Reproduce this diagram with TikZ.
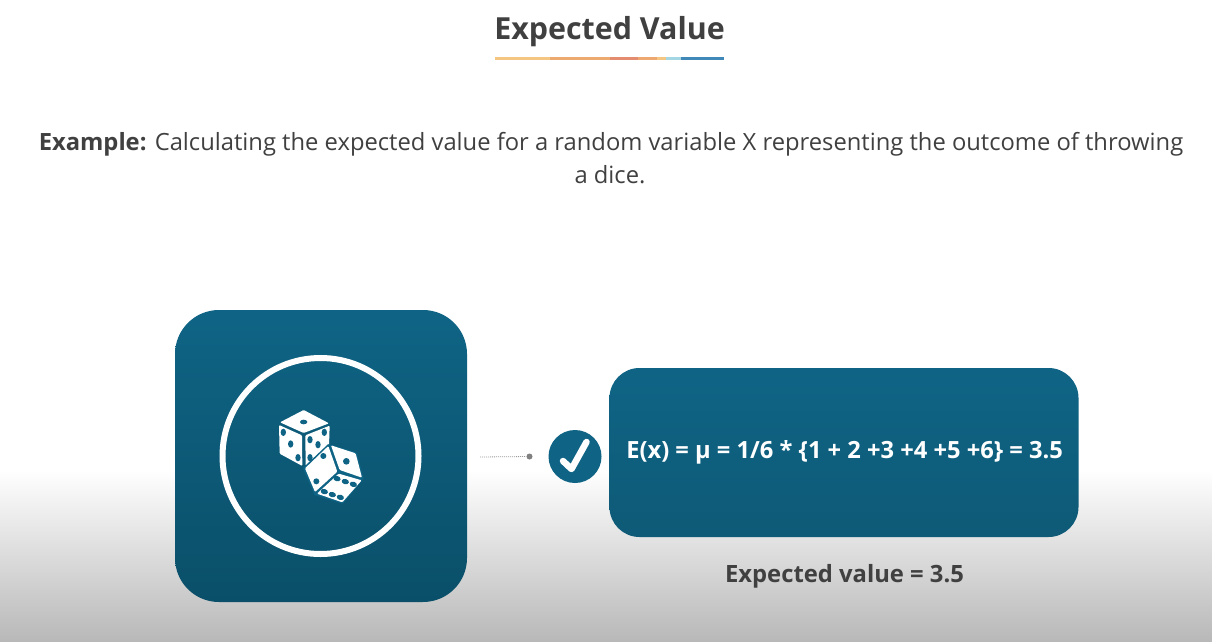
\documentclass[tikz,border=0pt]{standalone}
\usepackage{fontspec}
\setmainfont{Open Sans}
\definecolor{teal1}{HTML}{0F6485}
\definecolor{teal2}{HTML}{0A4F69}
\definecolor{teal3}{HTML}{0E5A77}
\definecolor{ink}{HTML}{404040}
\definecolor{bg}{HTML}{B8B8B8}
\tikzset{
  tile/.style 2 args={rounded corners=#1,top color=teal1,middle color=teal1,bottom color=#2,draw=none,inner sep=0pt},
  pip/.style={fill=teal1,draw=none},
  face/.style={fill=white,draw=none,rounded corners=1pt},
  bar/.style={draw=none},
  txt/.style={text=ink,inner sep=0pt,anchor=base}
}
\begin{document}
\begin{tikzpicture}[x=1pt,y=-1pt]
\useasboundingbox (0,0) rectangle (1212,642);
\fill[white] (0,0) rectangle (1212,470);
\shade[top color=white,bottom color=bg,shading angle=0] (0,470) rectangle (1212,642);
% title
\node[txt,font=\fontsize{30.4}{30.4}\selectfont\bfseries] (title) at (609.5,40) {Expected Value};
\fill[bar,color={rgb,255:red,245;green,197;blue,130}] (495,57) rectangle (550,60);
\fill[bar,color={rgb,255:red,236;green,170;blue,112}] (550,57) rectangle (610,60);
\fill[bar,color={rgb,255:red,228;green,140;blue,112}] (610,57) rectangle (638,60);
\fill[bar,color={rgb,255:red,236;green,168;blue,112}] (638,57) rectangle (657,60);
\fill[bar,color={rgb,255:red,245;green,197;blue,130}] (657,57) rectangle (666,60);
\fill[bar,color={rgb,255:red,165;green,214;blue,228}] (666,57) rectangle (681,60);
\fill[bar,color={rgb,255:red,64;green,136;blue,184}] (681,57) rectangle (724,60);
% body
\node[txt,font=\fontsize{23.75}{23.75}\selectfont] (line1) at (611,150) {\textbf{Example:} Calculating the expected value for a random variable X representing the outcome of throwing};
\node[txt,font=\fontsize{23.75}{23.75}\selectfont] (line2) at (610,183) {a dice.};
% left tile
\node[tile={44pt}{teal2},minimum width=292pt,minimum height=292pt] (left) at (321,456) {};
\node[circle,draw=white,line width=6pt,minimum size=196pt,inner sep=0pt] (ring) at (320.5,456) {};
% dice
\begin{scope}[shift={(260,390)},x=0.3333pt,y=-0.3333pt]
  \fill[face] (131,60) -- (207,100) -- (131,129) -- (60,97) -- cycle;
  \fill[face] (57,105) -- (126,136) -- (127,228) -- (59,191) -- cycle;
  \fill[face] (136,136) -- (209,107) -- (207,170) -- (137,228) -- cycle;
  \fill[pip] (131,96) ellipse (11 and 7);
  \fill[pip] (70,127) ellipse (8 and 11);
  \fill[pip] (92,162) ellipse (8 and 11);
  \fill[pip] (114,203) ellipse (8 and 11);
  \fill[pip] (150,149) ellipse (8 and 11);
  \fill[pip] (193,127) ellipse (8 and 11);
  \fill[pip] (174,164) ellipse (8 and 11);
  \fill[pip] (150,203) ellipse (8 and 11);
  % second die, with a teal halo
  \fill[teal1,draw=teal1,line width=2.5pt,line join=round] (206,166) -- (287,190) -- (307,265) -- (247,337) -- (166,312) -- (133,235) -- cycle;
  \fill[face] (205,168) -- (232,245) -- (165,306) -- (135,235) -- cycle;
  \fill[face] (213,166) -- (287,190) -- (306,263) -- (239,240) -- cycle;
  \fill[face] (236,251) -- (305,271) -- (247,337) -- (171,311) -- cycle;
  \fill[pip] (190,198) circle (9);
  \fill[pip] (169,274) circle (9);
  \fill[pip] (259,214) circle (10);
  \fill[pip,rotate around={-15:(231,266)}] (231,266) ellipse (11 and 8);
  \fill[pip,rotate around={-15:(256,275)}] (256,275) ellipse (11 and 8);
  \fill[pip,rotate around={-15:(280,283)}] (280,283) ellipse (11 and 8);
  \fill[pip,rotate around={-15:(193,305)}] (193,305) ellipse (11 and 8);
  \fill[pip,rotate around={-15:(217,314)}] (217,314) ellipse (11 and 8);
  \fill[pip,rotate around={-15:(241,322)}] (241,322) ellipse (11 and 8);
\end{scope}
% connector
\coordinate (start) at (480,457);
\node[circle,fill=black!50,minimum size=6pt,inner sep=0pt] (dot) at (529.5,456.5) {};
\draw[black!40,line width=0.8pt,dash pattern=on 1pt off 1pt] (start) -- (dot);
% check
\node[circle,fill=teal1,minimum size=53pt,inner sep=0pt] (check) at (575,456.5) {};
\draw[white,line width=6.5pt,line cap=round,line join=round] (563,461) -- (571.5,469) -- (586.5,442);
% right tile
\node[tile={30pt}{teal3},minimum width=469pt,minimum height=169pt] (right) at (844,452.5) {};
\node[text=white,inner sep=0pt,anchor=base,font=\fontsize{23.7}{23.7}\selectfont\bfseries] (formula) at (844.5,458) {E(x) = μ = 1/6 * \{1 + 2 +3 +4 +5 +6\} = 3.5};
\node[txt,font=\fontsize{23.8}{23.8}\selectfont\bfseries] (result) at (844.5,582) {Expected value = 3.5};
\end{tikzpicture}
\end{document}
